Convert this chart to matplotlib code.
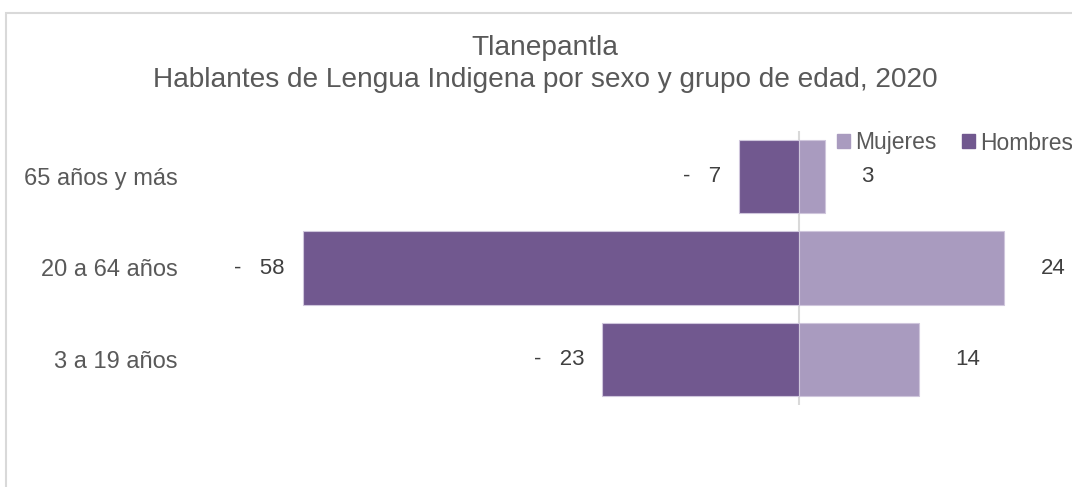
import matplotlib.pyplot as plt
from matplotlib.patches import Patch, Rectangle

plt.rcParams['font.family'] = ['Liberation Sans', 'DejaVu Sans']

# datos (de abajo hacia arriba)
grupos = ['3 a 19 años', '20 a 64 años', '65 años y más']
hombres = [-23, -58, -7]
mujeres = [14, 24, 3]

color_h = '#71588F'
color_m = '#A99BBF'
W, H = 1072, 487


def px(x, y):
    '''pixel (from top-left) to figure coords'''
    return x / W, 1 - y / H


fig = plt.figure(figsize=(W / 100, H / 100), dpi=100)

# marco del grafico
fig.patches.append(Rectangle(px(6, 500), 1090 / W, 487 / H, transform=fig.transFigure,
                             fill=False, edgecolor='#D9D9D9', linewidth=1.5))

ax = fig.add_axes([200 / W, 82 / H, 872 / W, 274 / H])
ypos = range(len(grupos))
ax.barh(ypos, hombres, height=0.8, color=color_h, edgecolor='#CFC6DC', linewidth=0.8, label='Hombres')
ax.barh(ypos, mujeres, height=0.8, color=color_m, edgecolor='#CFC6DC', linewidth=0.8, label='Mujeres')
ax.axvline(0, color='#D9D9D9', linewidth=1.5, zorder=0.5)

for y, v in zip(ypos, hombres):
    ax.annotate('-   %d' % abs(v), (v, y), xytext=(-13, 0), textcoords='offset points',
                ha='right', va='center', fontsize=16, color='#404040')
for y, v in zip(ypos, mujeres):
    ax.annotate('%d' % v, (v, y), xytext=(26, 0), textcoords='offset points',
                ha='left', va='center', fontsize=16, color='#404040')

ax.set_xlim(-70, 31.9)
ax.set_ylim(-0.5, len(grupos) - 0.5)
ax.set_yticks(list(ypos))
ax.set_yticklabels(grupos, fontsize=17, color='#595959')
ax.tick_params(axis='y', length=0, pad=16)
ax.set_xticks([])
for s in ax.spines.values():
    s.set_visible(False)

fig.text(*px(545, 48), 'Tlanepantla', ha='center', va='center', fontsize=20.2, color='#595959')
fig.text(*px(545, 80), 'Hablantes de Lengua Indigena por sexo y grupo de edad, 2020',
         ha='center', va='center', fontsize=20.2, color='#595959')

handles = [Patch(color=color_m, label='Mujeres'), Patch(color=color_h, label='Hombres')]
fig.legend(handles=handles, loc='center left', bbox_to_anchor=px(837, 143), ncol=2,
           frameon=False, fontsize=16.5, labelcolor='#595959',
           handlelength=0.55, handleheight=0.55, handletextpad=0.25, columnspacing=1.1,
           borderpad=0, borderaxespad=0)

fig.savefig('out.png', dpi=100)
